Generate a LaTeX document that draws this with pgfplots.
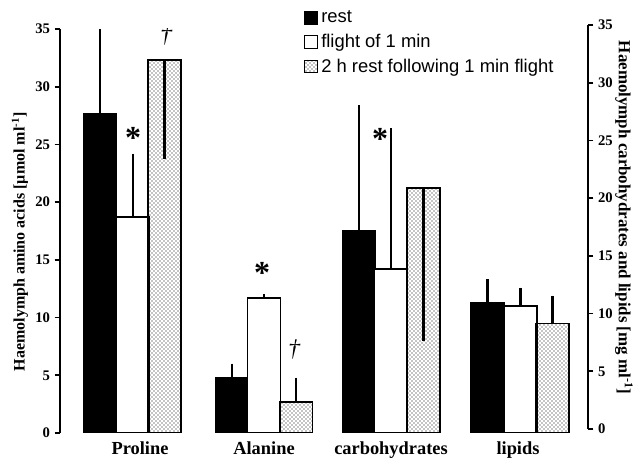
\documentclass[border=0pt]{standalone}
\usepackage{pgfplots}
\pgfplotsset{compat=1.18}
\usepackage{fontspec}
\setmainfont{Liberation Serif}
\newfontfamily\legendfont{Liberation Sans}
\usetikzlibrary{patterns}

\begin{document}
\begin{tikzpicture}
\pgfplotsset{ebar/.style={error bars/.cd, y dir=both, y explicit, error mark=none,
  error bar style={line width=1.8pt, black}}}
\begin{axis}[name=ax,
  scale only axis, width=396pt, height=303pt,
  xmin=60, xmax=588, ymin=0, ymax=35,
  axis y line=left, axis x line=bottom,
  y axis line style={-, line width=1.4pt},
  x axis line style={draw=none},
  ytick={0,5,...,35},
  xtick={140,264,391,518},
  xticklabels={Proline,Alanine,carbohydrates,lipids},
  major x tick style={draw=none},
  major y tick style={line width=1.2pt, black},
  tick align=outside, major tick length=4pt,
  /pgf/number format/assume math mode=true,
  yticklabel style={font=\bfseries\fontsize{11}{12}\selectfont},
  xticklabel style={font=\bfseries\fontsize{13.8}{15}\selectfont, yshift=1pt},
  every axis y label/.style={at={(axis description cs:-0.076,0.473)}, rotate=90, anchor=center, font=\bfseries\fontsize{12}{14}\selectfont},
  ylabel={Haemolymph amino acids [µmol ml\textsuperscript{-1}]},
  legend style={at={(axis description cs:0.462,1.052)}, anchor=north west, draw=none, fill=none,
    font=\legendfont\fontsize{13.8}{15}\selectfont, row sep=3pt, inner sep=0pt,
    nodes={inner xsep=2.5pt}},
  legend cell align=left,
  legend image code/.code={\draw[#1, line width=0.8pt] (0pt,-4.8pt) rectangle (9.5pt,4.8pt);},
]
\addplot[ybar, bar width=33, bar shift=0, fill=black, draw=black, line width=1.2pt, ebar]
  coordinates {(100,27.65) += (0,7.35) -= (0,0)
               (232,4.75) += (0,1.25) -= (0,0)
               (359,17.5) += (0,10.9) -= (0,0)
               (487.5,11.3) += (0,2.0) -= (0,0)};
\addlegendentry{rest}
\addplot[ybar, bar width=33, bar shift=0, fill=white, draw=black, line width=1.2pt, ebar]
  coordinates {(133,18.7) += (0,5.5) -= (0,0)
               (264,11.7) += (0,0.35) -= (0,0)
               (391,14.2) += (0,12.2) -= (0,0)
               (520.5,11.0) += (0,1.6) -= (0,0)};
\addlegendentry{flight of 1 min}
\addplot[ybar, bar width=33, bar shift=0, pattern=crosshatch dots, pattern color=black, draw=black, line width=1.2pt, ebar]
  coordinates {(164.5,32.3) += (0,0) -= (0,8.6)
               (296,2.7) += (0,2.1) -= (0,0)
               (423.5,21.2) += (0,0) -= (0,13.2)
               (552.5,9.5) += (0,2.4) -= (0,0)};
\addlegendentry{2 h rest following 1 min flight}

\tikzset{star/.style={font=\bfseries\fontsize{24}{24}\selectfont, anchor=north, inner sep=0pt}}
\node[star] at (axis cs:133,26.5) {*};
\node[star] at (axis cs:262,14.8) {*};
\node[star] at (axis cs:380,26.4) {*};
\node[font=\itshape\fontsize{18}{18}\selectfont] at (axis cs:166,34.4) {\textdagger};
\node[font=\itshape\fontsize{18}{18}\selectfont] at (axis cs:294,7.2) {\textdagger};
\end{axis}

\begin{axis}[
  scale only axis, width=396pt, height=303pt,
  at={(ax.south west)}, anchor=south west, yshift=3pt,
  xmin=60, xmax=588, ymin=0, ymax=35,
  axis y line=right, axis x line=none,
  y axis line style={-, line width=1.4pt},
  ytick={0,5,...,35},
  major y tick style={line width=1.2pt, black},
  tick align=outside, major tick length=4pt,
  /pgf/number format/assume math mode=true,
  yticklabel style={font=\bfseries\fontsize{11}{12}\selectfont},
  every axis y label/.style={at={(axis description cs:1.068,0.523)}, rotate=-90, anchor=center, font=\bfseries\fontsize{12.7}{14}\selectfont},
  ylabel={Haemolymph carbohydrates and lipids [mg ml\textsuperscript{-1}]},
]
\addplot[draw=none] coordinates {(60,0)};
\end{axis}

\pgfresetboundingbox
\path[use as bounding box] ([xshift=-45pt,yshift=-24pt]ax.south west) rectangle ([xshift=37.5pt,yshift=21.75pt]ax.north east);
\end{tikzpicture}
\end{document}
